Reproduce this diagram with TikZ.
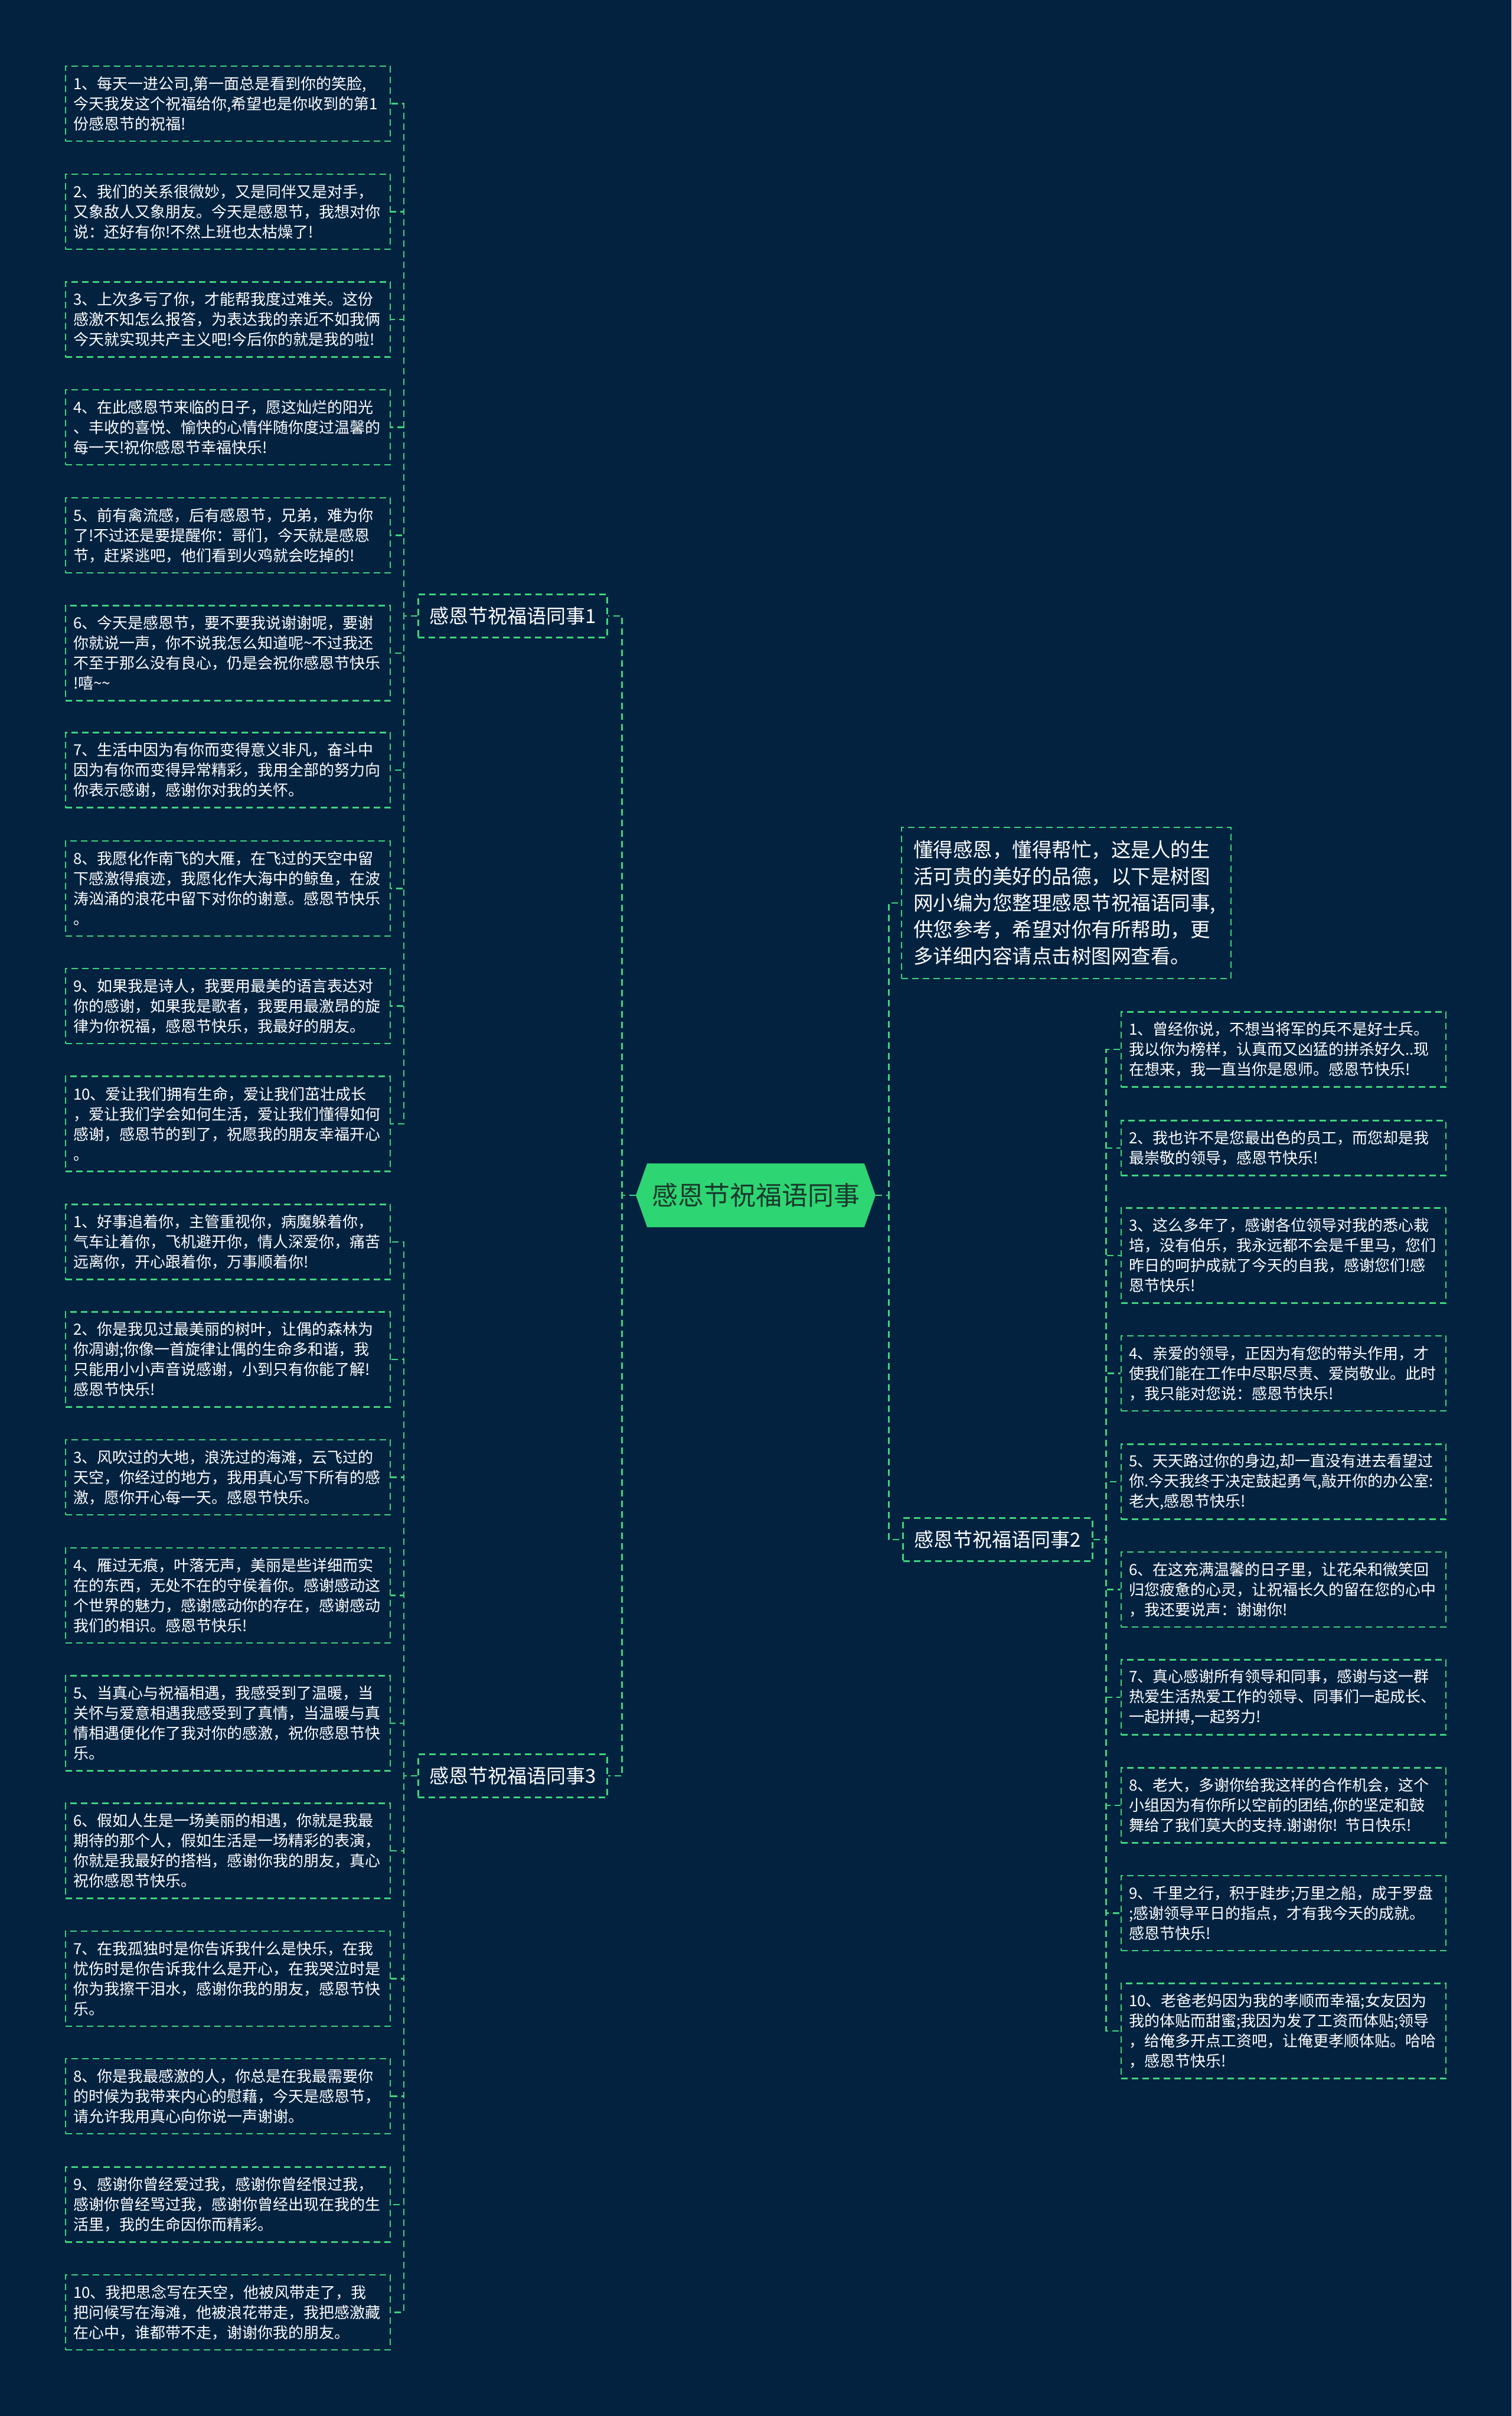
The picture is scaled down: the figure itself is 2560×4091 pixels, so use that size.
\documentclass[tikz,border=0pt]{standalone}
\usepackage{fontspec}
\setmainfont{Noto Sans CJK SC}
\usetikzlibrary{shapes.symbols}
\definecolor{bgNavy}{RGB}{3,34,64}
\definecolor{lineGreen}{RGB}{62,212,124}
\definecolor{rootGreen}{RGB}{46,213,115}
\definecolor{rootText}{RGB}{24,56,44}
\newcommand{\leafFont}{\fontsize{26}{34}\selectfont}
\newcommand{\branchFont}{\fontsize{33}{40}\selectfont}
\newcommand{\introFont}{\fontsize{33.5}{45}\selectfont}
\newcommand{\rootFont}{\fontsize{44}{52}\selectfont}

\begin{document}
\begin{tikzpicture}[x=1pt, y=-1pt,
   link/.style={draw=lineGreen, line width=2.8pt, dash pattern=on 11pt off 7pt},
   leafbox/.style={link, text=white, font=\leafFont, align=left,
      text width=524pt, inner xsep=13pt, inner ysep=6pt},
   rows2/.style={minimum height=93pt},
   rows3/.style={minimum height=127pt},
   rows4/.style={minimum height=161pt},
   branchbox/.style={link, text=white, font=\branchFont,
      inner xsep=19pt, inner ysep=0pt, minimum height=73pt},
   introbox/.style={link, text=white, font=\introFont, align=left,
      text width=518pt, inner xsep=20pt, inner ysep=6pt, minimum height=256pt},
   rootnode/.style={signal, signal to=west and east, signal pointer angle=141,
      fill=rootGreen, text=rootText, font=\rootFont,
      minimum width=406pt, minimum height=108pt, inner sep=0pt}]
   \useasboundingbox[fill=bgNavy] (0,0) rectangle (2560,4091);

   \node[rootnode] (root) at (1280,2024) {感恩节祝福语同事};

   \node[branchbox] (b1) at (868.5,1043) {感恩节祝福语同事1};
   \node[branchbox] (b3) at (868.5,3007) {感恩节祝福语同事3};
   \node[branchbox] (b2) at (1690,2607) {感恩节祝福语同事2};
   \node[introbox] (intro) at (1806,1529) {懂得感恩，懂得帮忙，这是人的生\\活可贵的美好的品德，以下是树图\\网小编为您整理感恩节祝福语同事,\\供您参考，希望对你有所帮助，更\\多详细内容请点击树图网查看。};

   \node[leafbox, rows3] (a1) at (386,175.5) {1、每天一进公司,第一面总是看到你的笑脸,\\今天我发这个祝福给你,希望也是你收到的第1\\份感恩节的祝福!};
   \node[leafbox, rows3] (a2) at (386,358.5) {2、我们的关系很微妙，又是同伴又是对手，\\又象敌人又象朋友。今天是感恩节，我想对你\\说：还好有你!不然上班也太枯燥了!};
   \node[leafbox, rows3] (a3) at (386,541) {3、上次多亏了你，才能帮我度过难关。这份\\感激不知怎么报答，为表达我的亲近不如我俩\\今天就实现共产主义吧!今后你的就是我的啦!};
   \node[leafbox, rows3] (a4) at (386,723.5) {4、在此感恩节来临的日子，愿这灿烂的阳光\\、丰收的喜悦、愉快的心情伴随你度过温馨的\\每一天!祝你感恩节幸福快乐!};
   \node[leafbox, rows3] (a5) at (386,906.5) {5、前有禽流感，后有感恩节，兄弟，难为你\\了!不过还是要提醒你：哥们，今天就是感恩\\节，赶紧逃吧，他们看到火鸡就会吃掉的!};
   \node[leafbox, rows4] (a6) at (386,1106) {6、今天是感恩节，要不要我说谢谢呢，要谢\\你就说一声，你不说我怎么知道呢\textasciitilde 不过我还\\不至于那么没有良心，仍是会祝你感恩节快乐\\!嘻\textasciitilde\textasciitilde};
   \node[leafbox, rows3] (a7) at (386,1304) {7、生活中因为有你而变得意义非凡，奋斗中\\因为有你而变得异常精彩，我用全部的努力向\\你表示感谢，感谢你对我的关怀。};
   \node[leafbox, rows4] (a8) at (386,1504.5) {8、我愿化作南飞的大雁，在飞过的天空中留\\下感激得痕迹，我愿化作大海中的鲸鱼，在波\\涛汹涌的浪花中留下对你的谢意。感恩节快乐\\。};
   \node[leafbox, rows3] (a9) at (386,1703.5) {9、如果我是诗人，我要用最美的语言表达对\\你的感谢，如果我是歌者，我要用最激昂的旋\\律为你祝福，感恩节快乐，我最好的朋友。};
   \node[leafbox, rows4] (a10) at (386,1903) {10、爱让我们拥有生命，爱让我们茁壮成长\\，爱让我们学会如何生活，爱让我们懂得如何\\感谢，感恩节的到了，祝愿我的朋友幸福开心\\。};

   \node[leafbox, rows3] (c1) at (386,2103) {1、好事追着你，主管重视你，病魔躲着你，\\气车让着你，飞机避开你，情人深爱你，痛苦\\远离你，开心跟着你，万事顺着你!};
   \node[leafbox, rows4] (c2) at (386,2302) {2、你是我见过最美丽的树叶，让偶的森林为\\你凋谢;你像一首旋律让偶的生命多和谐，我\\只能用小小声音说感谢，小到只有你能了解!\\感恩节快乐!};
   \node[leafbox, rows3] (c3) at (386,2501.5) {3、风吹过的大地，浪洗过的海滩，云飞过的\\天空，你经过的地方，我用真心写下所有的感\\激，愿你开心每一天。感恩节快乐。};
   \node[leafbox, rows4] (c4) at (386,2701.5) {4、雁过无痕，叶落无声，美丽是些详细而实\\在的东西，无处不在的守侯着你。感谢感动这\\个世界的魅力，感谢感动你的存在，感谢感动\\我们的相识。感恩节快乐!};
   \node[leafbox, rows4] (c5) at (386,2918) {5、当真心与祝福相遇，我感受到了温暖，当\\关怀与爱意相遇我感受到了真情，当温暖与真\\情相遇便化作了我对你的感激，祝你感恩节快\\乐。};
   \node[leafbox, rows4] (c6) at (386,3134) {6、假如人生是一场美丽的相遇，你就是我最\\期待的那个人，假如生活是一场精彩的表演，\\你就是我最好的搭档，感谢你我的朋友，真心\\祝你感恩节快乐。};
   \node[leafbox, rows4] (c7) at (386,3350.5) {7、在我孤独时是你告诉我什么是快乐，在我\\忧伤时是你告诉我什么是开心，在我哭泣时是\\你为我擦干泪水，感谢你我的朋友，感恩节快\\乐。};
   \node[leafbox, rows3] (c8) at (386,3549.5) {8、你是我最感激的人，你总是在我最需要你\\的时候为我带来内心的慰藉，今天是感恩节，\\请允许我用真心向你说一声谢谢。};
   \node[leafbox, rows3] (c9) at (386,3733) {9、感谢你曾经爱过我，感谢你曾经恨过我，\\感谢你曾经骂过我，感谢你曾经出现在我的生\\活里，我的生命因你而精彩。};
   \node[leafbox, rows3] (c10) at (386,3915.5) {10、我把思念写在天空，他被风带走了，我\\把问候写在海滩，他被浪花带走，我把感激藏\\在心中，谁都带不走，谢谢你我的朋友。};

   \node[leafbox, rows3] (r1) at (2174,1777) {1、曾经你说，不想当将军的兵不是好士兵。\\我以你为榜样，认真而又凶猛的拼杀好久..现\\在想来，我一直当你是恩师。感恩节快乐!};
   \node[leafbox, rows2] (r2) at (2174,1944) {2、我也许不是您最出色的员工，而您却是我\\最崇敬的领导，感恩节快乐!};
   \node[leafbox, rows4] (r3) at (2174,2126) {3、这么多年了，感谢各位领导对我的悉心栽\\培，没有伯乐，我永远都不会是千里马，您们\\昨日的呵护成就了今天的自我，感谢您们!感\\恩节快乐!};
   \node[leafbox, rows3] (r4) at (2174,2325.5) {4、亲爱的领导，正因为有您的带头作用，才\\使我们能在工作中尽职尽责、爱岗敬业。此时\\，我只能对您说：感恩节快乐!};
   \node[leafbox, rows3] (r5) at (2174,2509) {5、天天路过你的身边,却一直没有进去看望过\\你.今天我终于决定鼓起勇气,敲开你的办公室:\\老大,感恩节快乐!};
   \node[leafbox, rows3] (r6) at (2174,2691.5) {6、在这充满温馨的日子里，让花朵和微笑回\\归您疲惫的心灵，让祝福长久的留在您的心中\\，我还要说声：谢谢你!};
   \node[leafbox, rows3] (r7) at (2174,2874) {7、真心感谢所有领导和同事，感谢与这一群\\热爱生活热爱工作的领导、同事们一起成长、\\一起拼搏,一起努力!};
   \node[leafbox, rows3] (r8) at (2174,3057) {8、老大，多谢你给我这样的合作机会，这个\\小组因为有你所以空前的团结,你的坚定和鼓\\舞给了我们莫大的支持.谢谢你! 节日快乐!};
   \node[leafbox, rows3] (r9) at (2174,3239.5) {9、千里之行，积于跬步;万里之船，成于罗盘\\;感谢领导平日的指点，才有我今天的成就。\\感恩节快乐!};
   \node[leafbox, rows4] (r10) at (2174,3439) {10、老爸老妈因为我的孝顺而幸福;女友因为\\我的体贴而甜蜜;我因为发了工资而体贴;领导\\，给俺多开点工资吧，让俺更孝顺体贴。哈哈\\，感恩节快乐!};

   \draw[link] (root.west) -- ++(-23,0) |- (b1.east);
   \draw[link] (root.west) -- ++(-23,0) |- (b3.east);
   \draw[link] (root.east) -- ++(22,0) |- (intro.west);
   \draw[link] (root.east) -- ++(22,0) |- (b2.west);
   \foreach \n in {1,...,10}
   {%
      \draw[link] (b1.west) -- ++(-23,0) |- (a\n.east);
      \draw[link] (b3.west) -- ++(-23,0) |- (c\n.east);
      \draw[link] (b2.east) -- ++(22,0) |- (r\n.west);
   }
\end{tikzpicture}
\end{document}
